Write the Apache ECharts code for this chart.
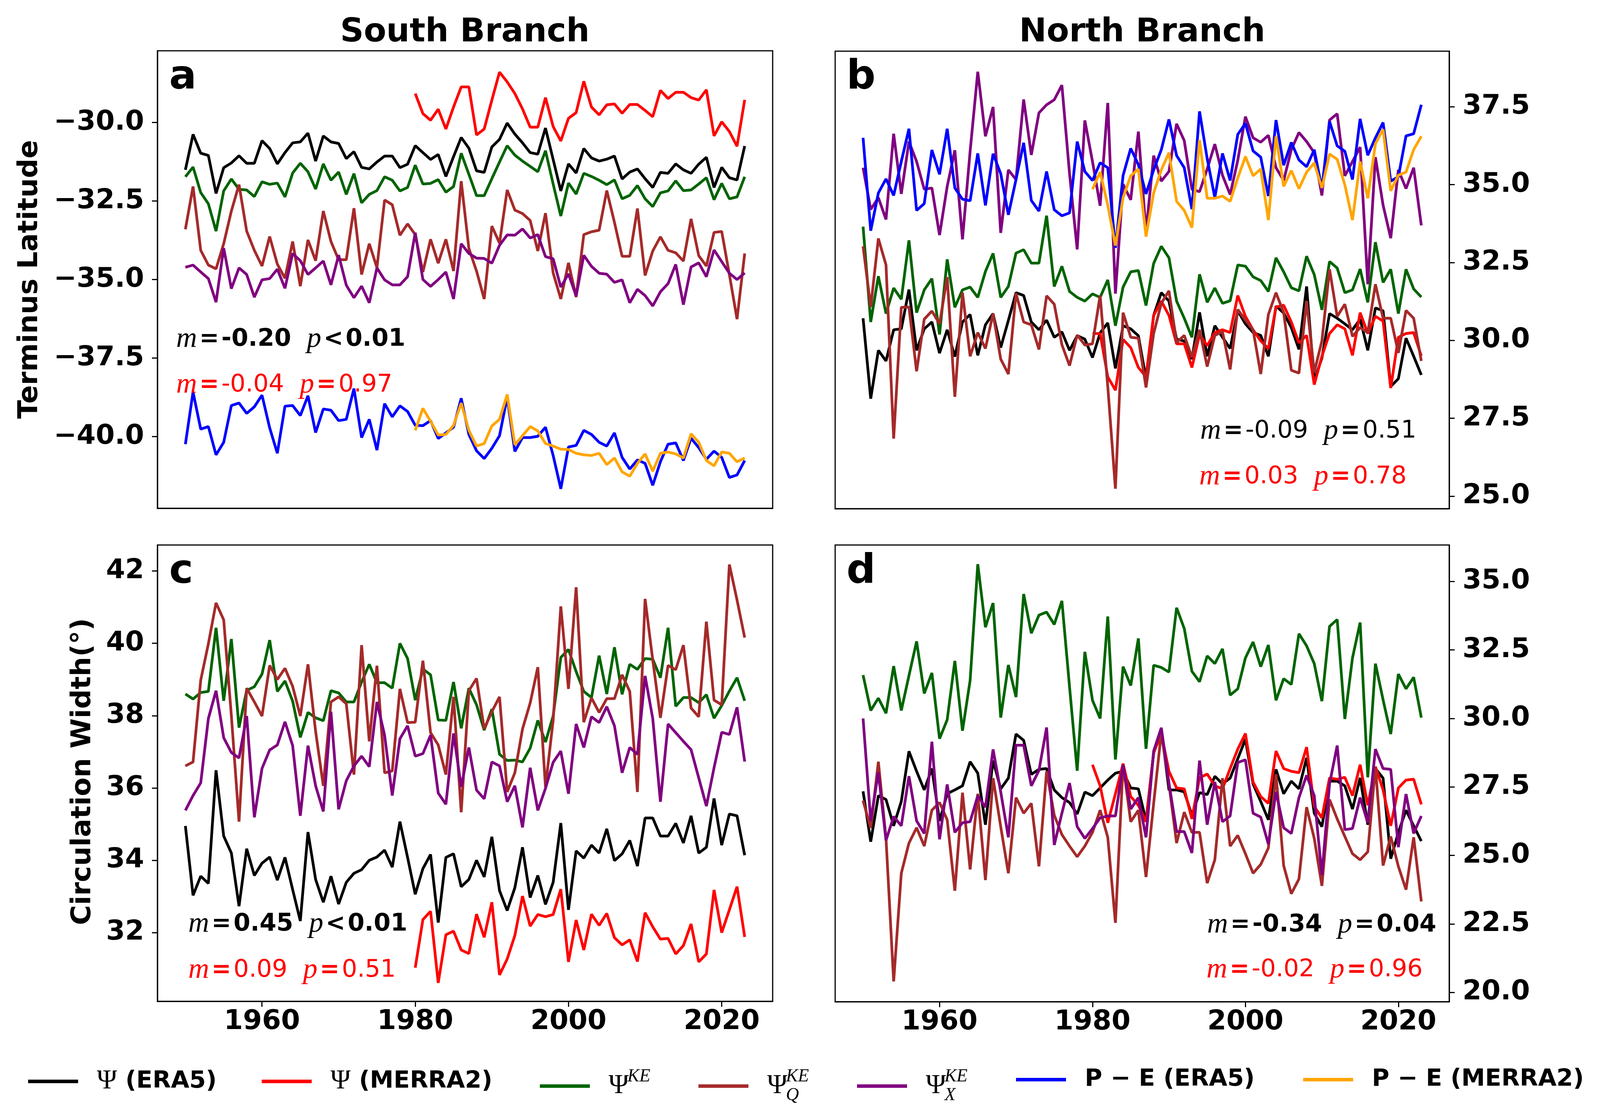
<!DOCTYPE html>
<html>
<head>
<meta charset="utf-8">
<script src="https://cdn.jsdelivr.net/npm/echarts@6/dist/echarts.min.js"></script>
<style>
  html, body { margin: 0; padding: 0; background: #fff; }
  #main { width: 4098px; height: 2854px; }
</style>
</head>
<body>
<div id="main"></div>
<script>
// years: ERA5 runs 1950-2023, MERRA2 1980-2023
var years = [];
for (var y = 1950; y <= 2023; y++) years.push(y);
var yearsMerra = years.slice(30);

// ---- a: South Branch, terminus latitude ----
var aEra5 = [-31.51,-30.38,-30.98,-31.05,-32.26,-31.44,-31.29,-31.06,-31.3,-31.3,
  -30.58,-30.83,-31.32,-30.96,-30.65,-30.62,-30.34,-31.23,-30.43,-30.62,
  -30.67,-31.15,-30.93,-31.43,-31.48,-31.26,-31.07,-31.07,-31.44,-31.33,
  -30.74,-30.96,-31.18,-31.02,-31.72,-31.09,-30.48,-30.82,-31.54,-31.59,
  -30.78,-30.54,-30.02,-30.37,-30.65,-30.96,-31.01,-30.18,-31.18,-32.18,
  -31.32,-31.61,-30.83,-31.13,-31.23,-31.17,-31.07,-31.8,-31.58,-31.48,
  -31.79,-32.07,-31.59,-31.62,-31.32,-31.51,-31.62,-31.33,-31.11,-32.07,
  -31.43,-31.76,-31.83,-30.75];
var aMerra2 = [-29.08,-29.72,-29.93,-29.58,-30.21,-29.51,-28.87,-28.87,-30.4,-30.21,
  -29.29,-28.4,-28.71,-29.08,-29.57,-30.15,-30.15,-29.21,-30.13,-30.59,
  -29.87,-29.69,-28.69,-29.51,-29.76,-29.44,-29.41,-29.71,-29.43,-29.43,
  -29.62,-29.82,-28.98,-29.24,-29.04,-29.04,-29.21,-29.29,-28.96,-30.43,
  -29.98,-30.29,-30.76,-29.28];
var aKE = [-31.73,-31.42,-32.23,-32.59,-33.46,-32.18,-31.8,-32.13,-32.15,-32.36,
  -31.89,-31.97,-31.93,-32.37,-31.61,-31.3,-31.57,-32.12,-31.32,-31.84,
  -31.58,-32.29,-31.63,-32.56,-32.29,-32.17,-31.73,-31.84,-32.18,-32.07,
  -31.36,-31.96,-31.94,-31.82,-32.22,-32.04,-30.98,-31.65,-32.33,-32.33,
  -31.79,-31.26,-30.74,-31.04,-31.23,-31.4,-31.57,-30.9,-31.96,-32.98,
  -31.93,-32.28,-31.62,-31.72,-31.84,-31.98,-31.83,-32.43,-32.32,-32.01,
  -32.43,-32.68,-32.24,-32.18,-31.86,-32.17,-32.15,-31.96,-31.76,-32.46,
  -31.94,-32.43,-32.37,-31.73];
var aKEQ = [-33.4,-32.04,-34.07,-34.54,-34.66,-33.86,-32.82,-31.98,-33.46,-34.07,
  -34.57,-33.63,-34.51,-34.96,-33.79,-35.21,-33.74,-34.4,-32.82,-33.79,
  -34.37,-34.37,-32.73,-34.84,-33.86,-34.62,-32.47,-32.62,-33.59,-33.23,
  -33.57,-34.76,-33.72,-34.48,-33.72,-34.73,-31.87,-34.01,-34.73,-35.62,
  -33.3,-33.84,-32.15,-32.79,-32.9,-33.12,-34.09,-32.89,-34.79,-35.62,
  -34.47,-35.56,-33.57,-33.48,-33.43,-32.17,-33.18,-34.26,-34.26,-32.74,
  -34.87,-34.09,-33.64,-34.07,-34.15,-34.41,-33.07,-34.24,-34.57,-33.5,
  -33.47,-34.84,-36.26,-34.17];
var aKEX = [-34.61,-34.54,-34.76,-34.97,-35.72,-34.0,-35.29,-34.63,-34.84,-35.56,
  -35.01,-34.97,-34.67,-35.28,-34.17,-34.4,-34.84,-34.63,-34.41,-35.17,
  -34.22,-35.18,-35.58,-35.21,-35.74,-34.63,-35.01,-35.17,-35.17,-34.91,
  -33.51,-35.0,-35.22,-35.0,-34.76,-35.62,-33.86,-34.17,-34.32,-34.33,
  -34.48,-33.91,-33.58,-33.59,-33.39,-33.68,-33.57,-34.27,-34.34,-35.24,
  -34.82,-35.52,-34.23,-34.58,-34.8,-34.83,-35.09,-35.01,-35.74,-35.31,
  -35.51,-35.84,-35.39,-35.13,-34.52,-35.8,-34.6,-34.47,-34.91,-34.06,
  -34.43,-34.8,-35.0,-34.79];
var aPE = [-40.24,-38.58,-39.76,-39.68,-40.58,-40.18,-39.01,-38.93,-39.26,-39.05,
  -38.68,-39.72,-40.53,-39.03,-39.01,-39.33,-38.7,-39.87,-39.12,-39.16,
  -39.49,-39.45,-38.47,-40.03,-39.45,-40.43,-38.95,-39.37,-39.02,-39.2,
  -39.64,-39.65,-39.49,-40.06,-39.88,-39.7,-38.78,-39.93,-40.45,-40.7,
  -40.37,-39.97,-38.75,-40.47,-40.03,-40.03,-39.99,-39.7,-40.6,-41.66,
  -40.33,-40.28,-39.8,-39.93,-40.18,-40.3,-39.88,-40.66,-41.03,-40.74,
  -40.85,-41.55,-40.8,-40.24,-40.2,-40.76,-40.05,-40.35,-40.72,-40.46,
  -40.66,-41.3,-41.22,-40.76];
var aPEm = [-39.8,-39.1,-39.51,-39.95,-39.93,-39.64,-38.93,-39.8,-40.3,-40.22,
  -39.66,-39.45,-38.66,-40.26,-39.97,-39.68,-39.82,-40.22,-40.3,-40.4,
  -40.41,-40.53,-40.58,-40.6,-40.53,-40.89,-40.68,-41.12,-41.26,-40.85,
  -40.55,-41.1,-40.53,-40.49,-40.55,-40.68,-39.91,-40.18,-40.76,-40.93,
  -40.49,-40.53,-40.8,-40.68];

// ---- b: North Branch, terminus latitude ----
var bEra5 = [30.71,28.13,29.68,29.34,30.34,30.37,31.63,29.68,30.37,30.59,
  29.59,30.34,29.48,30.59,30.83,29.52,30.5,30.86,29.77,30.64,
  31.53,31.44,30.59,30.34,30.65,30.1,30.27,29.68,30.15,30.04,
  29.45,30.24,30.56,29.1,30.47,30.37,30.15,28.77,30.8,31.53,
  31.26,30.04,29.98,29.4,30.9,29.49,30.47,30.1,29.74,30.95,
  30.53,30.25,30.16,29.49,31.1,30.88,30.41,29.71,31.73,28.71,
  29.43,30.86,30.71,30.53,30.34,30.68,29.68,31.04,30.95,28.52,
  28.77,30.07,29.49,28.89];
var bMerra2 = [30.22,30.22,28.83,28.4,30.03,29.77,29.13,28.83,30.8,31.26,
  30.8,29.89,29.89,29.13,30.19,29.83,30.25,30.34,30.25,31.44,
  30.77,30.34,29.98,29.74,31.07,31.13,30.59,29.92,30.16,28.58,
  29.49,30.22,30.5,30.37,29.52,30.89,30.22,30.77,30.62,28.47,
  30.1,30.22,30.25,29.5];
var bKE = [33.65,30.59,32.06,30.86,31.68,31.32,33.21,30.89,31.62,31.98,
  30.19,32.6,31.06,31.62,31.71,31.38,32.21,32.79,31.38,31.73,
  32.8,32.91,32.48,32.48,34.0,31.73,32.38,31.57,31.38,31.26,
  31.49,31.38,31.94,30.47,31.71,32.2,32.24,31.12,32.47,33.02,
  32.65,31.26,30.71,30.1,32.12,31.22,31.68,31.19,31.27,32.42,
  32.38,32.04,31.92,31.57,32.65,32.2,31.69,31.59,32.7,32.11,
  30.98,32.53,32.32,31.53,31.62,32.29,31.22,33.15,31.86,32.28,
  30.86,32.28,31.65,31.39];
var bKEQ = [33.02,31.07,33.27,32.42,26.85,31.06,31.07,29.01,30.68,30.94,
  30.53,32.03,28.19,31.53,29.49,30.25,29.74,30.86,29.4,28.92,
  31.51,30.59,30.5,29.71,31.43,31.16,29.86,29.19,30.17,29.85,
  29.89,31.44,28.52,25.24,30.89,30.1,30.07,28.49,30.22,31.19,
  31.59,29.93,30.16,29.46,30.34,29.16,30.16,30.28,29.07,30.99,
  30.65,30.34,28.92,30.83,31.53,30.89,29.04,28.95,31.26,28.98,
  29.98,32.28,30.77,31.16,30.13,30.41,30.25,31.8,30.71,30.71,
  29.6,30.96,30.71,29.34];
var bKEX = [35.54,34.2,34.58,33.88,36.63,34.7,36.38,35.74,34.85,34.89,
  33.38,34.94,36.1,33.24,36.07,38.62,36.55,37.49,33.45,35.47,
  35.16,37.73,35.95,37.3,37.56,37.72,38.19,35.35,32.92,37.06,
  35.74,34.32,37.62,31.5,35.01,34.51,36.7,33.48,35.93,35.11,
  35.42,36.95,36.41,34.85,34.77,35.5,36.3,35.3,34.68,35.78,
  37.18,36.5,36.36,36.58,35.54,35.13,36.12,36.67,36.38,36.02,
  34.65,37.07,37.27,35.28,35.74,36.2,31.8,35.88,34.34,33.28,
  35.47,34.87,35.54,33.69];
var bPE = [36.5,33.52,34.73,35.18,34.65,35.74,36.79,34.17,34.39,36.11,
  35.33,36.79,34.89,34.53,34.48,36.0,34.33,35.99,35.35,34.03,
  35.16,36.34,34.49,34.15,35.42,34.19,34.0,34.09,36.38,35.42,
  35.13,35.7,35.54,32.97,35.29,36.16,35.64,34.7,35.47,36.12,
  37.09,35.93,35.54,34.21,37.35,35.83,34.58,36.0,35.13,36.61,
  36.96,36.08,35.88,34.63,37.07,35.62,36.35,35.79,35.57,36.12,
  34.87,37.03,36.24,36.07,35.16,37.11,35.94,36.5,36.99,35.11,
  35.25,36.56,36.63,37.56];
var bPEm = [34.85,35.4,34.34,33.04,34.58,35.28,35.5,33.33,34.73,35.47,
  36.02,34.46,34.17,33.62,36.43,34.56,34.56,34.63,34.46,35.21,
  35.9,35.28,35.5,33.86,36.55,34.94,35.45,34.87,35.4,35.69,
  34.89,35.98,35.81,34.99,33.86,35.74,34.56,36.31,36.77,34.8,
  35.3,35.4,36.12,36.55];

// ---- c: South Branch, circulation width ----
var cEra5 = [34.95,33.03,33.56,33.36,36.49,34.67,34.2,32.73,34.32,33.58,
  33.92,34.09,33.45,34.08,33.19,32.32,34.78,33.47,32.84,33.56,
  32.79,33.39,33.64,33.74,34.0,34.09,34.28,33.81,35.07,34.08,
  33.06,33.77,34.16,32.28,34.08,34.18,33.27,33.47,34.0,33.54,
  34.65,33.16,32.61,33.24,34.36,32.97,33.58,32.78,33.39,35.03,
  32.63,34.26,34.06,34.42,34.2,34.87,33.99,34.18,34.55,33.84,
  35.17,35.17,34.67,34.67,35.02,34.48,35.23,34.2,34.36,35.71,
  34.42,35.28,35.23,34.14];
var cMerra2 = [31.03,32.36,32.59,30.61,31.94,32.04,31.52,31.42,32.51,31.87,
  32.84,30.83,31.27,31.92,33.01,32.18,32.5,32.44,32.5,33.2,
  31.19,32.35,31.52,32.51,32.2,32.53,31.86,31.66,31.8,31.2,
  32.55,32.16,31.82,31.84,31.41,31.64,32.24,31.19,31.41,33.18,
  32.0,32.63,33.27,31.88];
var cKE = [38.6,38.46,38.64,38.67,40.43,38.41,40.12,37.67,38.7,38.8,
  39.15,40.09,38.67,38.96,38.4,37.4,38.09,37.94,37.86,38.69,
  38.63,38.38,38.38,38.93,39.42,38.91,38.91,38.76,40.0,39.58,
  38.43,39.29,39.13,37.88,37.87,38.93,37.65,38.76,38.3,37.6,
  38.18,36.93,36.76,36.77,36.72,37.1,37.87,37.27,37.99,39.61,
  39.83,39.22,38.67,38.5,39.66,38.6,39.89,38.59,39.42,39.28,
  39.58,39.56,39.05,40.43,38.26,38.5,38.5,38.36,38.58,37.93,
  38.28,38.68,39.05,38.41];
var cKEQ = [36.61,36.72,38.98,39.99,41.12,40.65,38.0,35.07,38.76,38.38,
  37.99,39.39,39.0,39.31,38.81,37.99,39.42,37.56,36.06,38.38,
  38.52,38.33,36.37,39.95,37.29,39.38,36.42,36.47,38.74,37.81,
  37.82,39.52,37.53,37.19,36.37,38.52,35.33,38.69,39.03,37.63,
  38.11,38.52,35.89,36.42,37.63,38.35,39.34,36.03,37.87,41.02,
  38.74,41.55,37.82,38.49,38.09,38.47,38.47,39.13,38.67,35.89,
  41.23,39.54,37.94,39.39,39.27,39.95,38.21,37.97,40.6,38.43,
  38.3,42.18,41.2,40.16];
var cKEX = [35.38,35.79,36.14,37.92,38.69,37.39,36.98,36.83,37.99,35.19,
  36.54,37.05,37.19,37.83,37.17,35.23,37.17,36.06,35.35,38.11,
  35.41,36.2,36.61,36.88,36.59,38.38,37.46,35.79,37.36,37.72,
  36.88,36.95,37.46,35.86,35.55,37.51,36.03,37.12,35.94,35.7,
  36.72,36.61,35.62,36.06,34.91,36.56,35.38,35.99,36.71,37.02,
  35.84,37.77,37.12,37.97,37.81,38.25,37.72,36.42,37.12,36.93,
  39.1,37.92,35.62,37.77,37.53,37.29,37.06,36.28,35.5,36.56,
  37.54,37.48,38.23,36.73];

// ---- d: North Branch, circulation width ----
var dEra5 = [27.34,25.5,27.18,27.04,26.08,26.97,28.8,28.07,27.39,28.17,
  26.26,27.25,27.39,27.54,28.42,28.0,26.12,28.46,27.43,27.82,
  29.43,29.2,27.96,28.14,28.17,27.39,27.11,26.93,26.51,27.31,
  27.18,27.46,27.75,28.0,28.07,27.46,27.43,26.26,28.74,29.62,
  27.39,27.39,27.32,26.47,27.29,27.22,27.89,27.61,27.82,28.53,
  29.24,27.61,26.97,26.3,28.14,27.25,27.71,27.43,28.56,26.54,
  26.05,27.71,27.71,27.54,26.69,27.83,26.12,28.17,27.82,24.88,
  25.84,26.65,26.08,25.52];
var dMerra2 = [28.31,27.54,26.19,27.25,28.35,27.15,26.83,26.23,28.74,29.45,
  28.07,27.46,27.43,26.33,27.83,27.97,27.54,27.43,28.17,28.88,
  29.45,27.68,27.15,26.9,28.81,28.17,28.07,28.02,28.95,26.79,
  26.37,27.83,27.78,27.85,27.18,28.31,26.83,28.24,27.39,26.08,
  27.46,27.75,27.78,26.86];
var dKE = [31.58,30.29,30.74,30.19,31.91,30.29,31.56,32.81,30.91,31.66,
  29.26,29.95,32.1,29.55,31.39,35.63,33.33,34.21,30.03,31.95,
  30.78,34.54,33.11,33.77,33.88,33.43,34.29,31.15,28.09,32.43,
  30.66,30.0,33.72,28.5,31.89,31.2,32.92,28.89,31.94,31.86,
  31.69,34.04,33.28,31.72,31.34,32.28,32.0,32.54,30.85,31.08,
  32.21,32.79,31.89,32.68,30.66,31.45,31.24,33.09,32.65,32.0,
  30.63,33.36,33.61,29.98,32.21,33.5,27.85,32.0,30.68,29.43,
  31.62,31.08,31.5,30.03];
var dKEQ = [27.0,26.0,28.42,25.62,20.4,24.35,25.45,26.01,25.34,26.65,
  26.93,26.3,23.71,27.29,24.49,27.25,24.1,27.82,26.05,24.35,
  27.11,26.54,26.9,24.6,28.07,26.47,25.76,25.34,24.95,25.34,
  25.84,26.65,25.66,22.54,28.31,26.23,26.65,24.21,26.9,29.48,
  27.61,25.45,26.58,25.84,25.84,23.99,24.84,27.82,25.34,25.73,
  25.06,24.35,24.67,25.27,27.96,24.63,23.6,24.14,26.76,25.62,
  23.89,27.04,26.33,25.69,25.06,24.84,25.13,28.24,24.63,25.69,
  24.6,23.75,25.66,23.32];
var dKEX = [30.0,26.26,28.03,25.55,26.42,26.08,27.89,26.26,25.8,29.15,
  25.59,27.59,25.84,26.19,26.23,27.18,26.76,28.87,27.32,25.66,
  29.02,29.02,27.54,28.1,29.67,25.38,26.54,27.64,26.05,25.62,
  25.98,26.37,26.44,26.44,28.31,26.69,27.11,25.66,28.81,29.66,
  27.64,25.87,25.87,25.09,28.46,26.12,27.68,26.23,26.44,28.39,
  28.49,26.54,26.4,25.41,27.32,26.01,25.8,27.11,27.92,27.18,
  24.28,27.61,29.01,25.94,25.98,27.11,26.19,28.88,28.17,28.14,
  25.3,27.24,25.8,26.44];

// tick values
var xTicks = [1960, 1980, 2000, 2020];
var aTicks = [-40, -37.5, -35, -32.5, -30];
var bTicks = [25, 27.5, 30, 32.5, 35, 37.5];
var cTicks = [32, 34, 36, 38, 40, 42];
var dTicks = [20, 22.5, 25, 27.5, 30, 32.5, 35];

var colors = {
  era5: '#000000', merra2: '#ff0000', ke: '#006400', keq: '#a52a2a',
  kex: '#800080', pe: '#0000ff', pem: '#ffa500'
};

function pairs(yrs, vals) {
  return vals.map(function (v, i) { return [yrs[i], v]; });
}

function line(name, idx, yrs, vals) {
  return {
    name: name, type: 'line', xAxisIndex: idx, yAxisIndex: idx,
    data: pairs(yrs, vals), showSymbol: false, symbol: 'none',
    lineStyle: { color: colors[name], width: 7 },
    itemStyle: { color: colors[name] }
  };
}

var series = [
  line('era5', 0, years, aEra5), line('merra2', 0, yearsMerra, aMerra2),
  line('ke', 0, years, aKE), line('keq', 0, years, aKEQ), line('kex', 0, years, aKEX),
  line('pe', 0, years, aPE), line('pem', 0, yearsMerra, aPEm),

  line('era5', 1, years, bEra5), line('merra2', 1, yearsMerra, bMerra2),
  line('ke', 1, years, bKE), line('keq', 1, years, bKEQ), line('kex', 1, years, bKEX),
  line('pe', 1, years, bPE), line('pem', 1, yearsMerra, bPEm),

  line('era5', 2, years, cEra5), line('merra2', 2, yearsMerra, cMerra2),
  line('ke', 2, years, cKE), line('keq', 2, years, cKEQ), line('kex', 2, years, cKEX),

  line('era5', 3, years, dEra5), line('merra2', 3, yearsMerra, dMerra2),
  line('ke', 3, years, dKE), line('keq', 3, years, dKEQ), line('kex', 3, years, dKEX)
];

var boxes = [
  { left: 403, top: 130, width: 1575, height: 1171 },
  { left: 2138, top: 131, width: 1572, height: 1171 },
  { left: 403, top: 1395, width: 1575, height: 1168 },
  { left: 2138, top: 1395, width: 1572, height: 1169 }
];

var grids = boxes.map(function (b) {
  return { left: b.left, top: b.top, width: b.width, height: b.height, show: true,
    borderColor: '#000', borderWidth: 3, backgroundColor: 'transparent' };
});

var tickFont = { fontSize: 70, fontWeight: 'bold', fontFamily: 'DejaVu Sans', color: '#000' };

function xAxis(idx, labels) {
  return {
    type: 'value', gridIndex: idx, min: 1946.35, max: 2026.65,
    axisLine: { show: true, onZero: false, lineStyle: { color: '#000', width: 3 } },
    splitLine: { show: false },
    axisTick: { show: labels, customValues: xTicks, length: 14, lineStyle: { color: '#000', width: 3 } },
    axisLabel: Object.assign({ show: labels, customValues: xTicks, margin: 18,
      formatter: function (v) { return String(v); } }, tickFont)
  };
}

function fmt1(v) { return v.toFixed(1).replace('-', '\u2212'); }

function yAxis(idx, pos, mn, mx, ticks, f) {
  return {
    type: 'value', gridIndex: idx, position: pos, min: mn, max: mx,
    axisLine: { show: true, onZero: false, lineStyle: { color: '#000', width: 3 } },
    splitLine: { show: false },
    axisTick: { show: true, customValues: ticks, length: 14, lineStyle: { color: '#000', width: 3 } },
    axisLabel: Object.assign({ customValues: ticks, margin: 34, formatter: f }, tickFont)
  };
}

// legend labels (Ψ with super/subscripts stacked over three short lines)
var legendText = {
  era5: '{e| }\n{psi|Ψ}{b| (ERA5)}\n{e| }',
  merra2: '{e| }\n{psi|Ψ}{b| (MERRA2)}\n{e| }',
  ke: '{sp| }{sup|KE}\n{psi|Ψ}\n{e| }',
  keq: '{sp| }{sup|KE}\n{psi|Ψ}\n{sp| }{sub|Q}',
  kex: '{sp| }{sup|KE}\n{psi|Ψ}\n{sp| }{sub|X}',
  pe: '{e| }\n{b|P \u2212 E (ERA5)}\n{e| }',
  pem: '{e| }\n{b|P \u2212 E (MERRA2)}\n{e| }'
};
var legendRich = {
  e: { fontSize: 10, lineHeight: 14 },
  sp: { width: 48, fontSize: 10, lineHeight: 14 },
  psi: { fontFamily: 'Liberation Serif', fontSize: 70, lineHeight: 34, color: '#000' },
  b: { fontFamily: 'DejaVu Sans', fontWeight: 'bold', fontSize: 61, lineHeight: 34, color: '#000' },
  sup: { fontFamily: 'Liberation Serif', fontStyle: 'italic', fontSize: 46, lineHeight: 14, color: '#000' },
  sub: { fontFamily: 'Liberation Serif', fontStyle: 'italic', fontSize: 46, lineHeight: 14, color: '#000' }
};
var legendLeft = { era5: 72, merra2: 670, ke: 1382, keq: 1788, kex: 2194, pe: 2601, pem: 3336 };

var legends = Object.keys(legendLeft).map(function (k) {
  return {
    data: [k], left: legendLeft[k], top: 2733, padding: 0, orient: 'horizontal',
    icon: 'rect', itemWidth: 128, itemHeight: 9, selectedMode: false,
    formatter: function (n) { return legendText[n]; },
    textStyle: { padding: [0, 0, 0, 43], rich: legendRich }
  };
});

// m / p annotations
function stat(x, y, align, color, bold, mVal, op, pVal) {
  var w = bold ? 'bold' : 'normal';
  return {
    type: 'text', x: x, y: y, z: 100,
    style: {
      text: '{mi|m}{op|=}{v|' + mVal + '}{gap| }{mi|p}{op|' + op + '}{v|' + pVal + '}',
      align: align, verticalAlign: 'middle',
      rich: {
        mi: { fontFamily: 'Liberation Serif', fontStyle: 'italic', fontSize: 74, fill: color },
        op: { fontFamily: 'DejaVu Sans', fontWeight: 'bold', fontSize: 60, fill: color, padding: [0, 6, 0, 6] },
        v: { fontFamily: 'DejaVu Sans', fontWeight: w, fontSize: 62, fill: color },
        gap: { width: 40, fontSize: 20 }
      }
    }
  };
}

function label(text, x, y, size) {
  return { type: 'text', x: x, y: y, z: 100,
    style: { text: text, font: 'bold ' + size + 'px "DejaVu Sans"', fill: '#000',
      align: 'left', verticalAlign: 'middle' } };
}

var graphics = [
  { type: 'text', x: 1190, y: 84, style: { text: 'South Branch', font: 'bold 84px "DejaVu Sans"', fill: '#000', align: 'center', verticalAlign: 'middle' } },
  { type: 'text', x: 2924, y: 84, style: { text: 'North Branch', font: 'bold 84px "DejaVu Sans"', fill: '#000', align: 'center', verticalAlign: 'middle' } },
  { type: 'text', x: 77, y: 715, rotation: Math.PI / 2, style: { text: 'Terminus Latitude', font: 'bold 70px "DejaVu Sans"', fill: '#000', align: 'center', verticalAlign: 'middle' } },
  { type: 'text', x: 213, y: 1975, rotation: Math.PI / 2, style: { text: 'Circulation Width(°)', font: 'bold 70px "DejaVu Sans"', fill: '#000', align: 'center', verticalAlign: 'middle' } },
  label('a', 433, 200, 104), label('b', 2167, 200, 104),
  label('c', 433, 1465, 104), label('d', 2167, 1465, 104),
  stat(451, 869, 'left', '#000', true, '-0.20', '<', '0.01'),
  stat(451, 986, 'left', '#ff0000', false, '-0.04', '=', '0.97'),
  stat(3626, 1104, 'right', '#000', false, '-0.09', '=', '0.51'),
  stat(3601, 1221, 'right', '#ff0000', false, '0.03', '=', '0.78'),
  stat(482, 2366, 'left', '#000', true, '0.45', '<', '0.01'),
  stat(482, 2484, 'left', '#ff0000', false, '0.09', '=', '0.51'),
  stat(3677, 2368, 'right', '#000', true, '-0.34', '=', '0.04'),
  stat(3642, 2483, 'right', '#ff0000', false, '-0.02', '=', '0.96')
];

var chart = echarts.init(document.getElementById('main'), null, { renderer: 'canvas' });
chart.setOption({
  animation: false,
  backgroundColor: '#ffffff',
  grid: grids,
  xAxis: [xAxis(0, false), xAxis(1, false), xAxis(2, true), xAxis(3, true)],
  yAxis: [
    yAxis(0, 'left', -42.28, -27.72, aTicks, fmt1),
    yAxis(1, 'right', 24.6, 39.28, bTicks, fmt1),
    yAxis(2, 'left', 30.1, 42.72, cTicks, function (v) { return String(v); }),
    yAxis(3, 'right', 19.66, 36.33, dTicks, fmt1)
  ],
  legend: legends,
  series: series,
  graphic: graphics
});
</script>
</body>
</html>
